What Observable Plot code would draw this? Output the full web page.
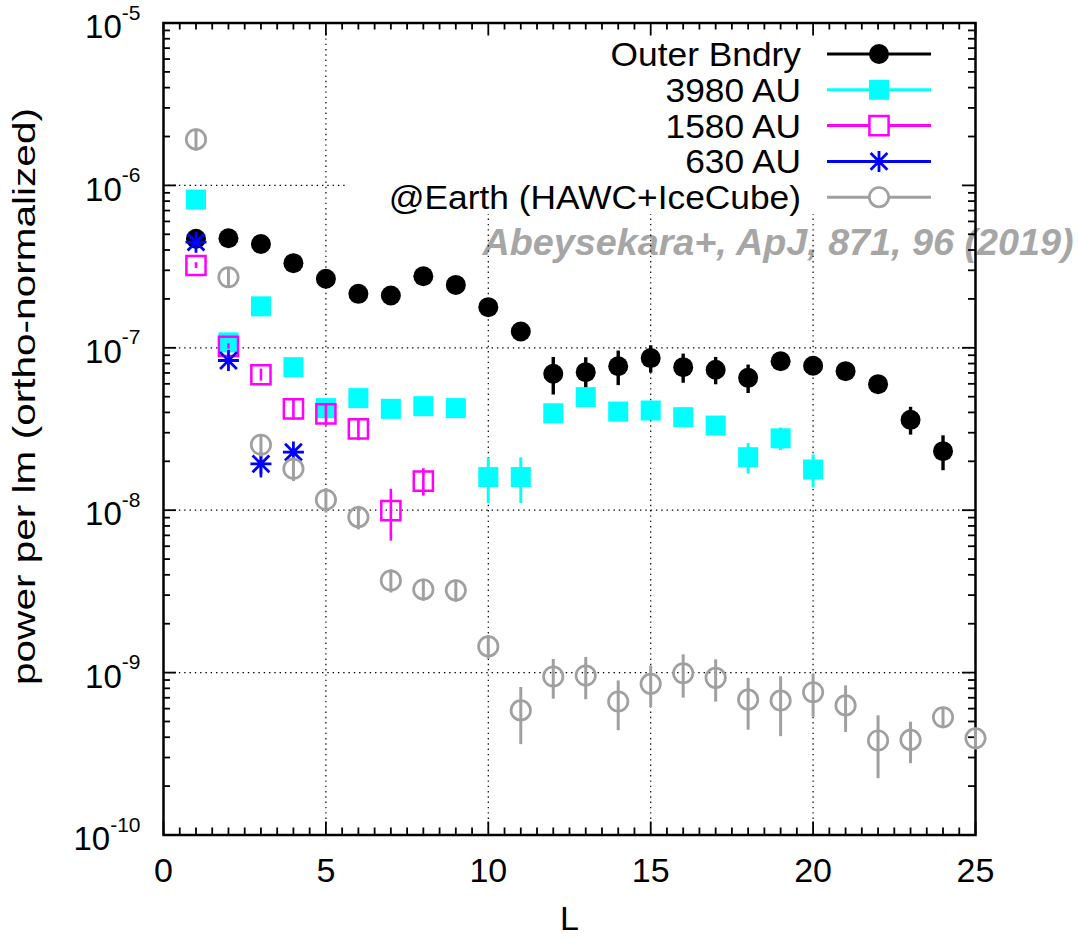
<!DOCTYPE html>
<html>
<head>
<meta charset="utf-8">
<script src="https://cdn.jsdelivr.net/npm/d3@7"></script>
<script src="https://cdn.jsdelivr.net/npm/@observablehq/plot@0.6"></script>
<style>
  html, body { margin: 0; padding: 0; background: #fff; }
  #chart svg { display: block; }
</style>
</head>
<body>
<div id="chart"></div>
<script>
// ---- data: angular power per multipole L ----
const outerL   = [1,2,3,4,5,6,7,8,9,10,11,12,13,14,15,16,17,18,19,20,21,22,23,24];
const outerP   = [4.69e-7,4.73e-7,4.36e-7,3.32e-7,2.66e-7,2.15e-7,2.10e-7,2.76e-7,2.44e-7,1.78e-7,1.26e-7,
                  6.92e-8,7.08e-8,7.70e-8,8.64e-8,7.60e-8,7.32e-8,6.53e-8,8.26e-8,7.75e-8,7.18e-8,5.97e-8,3.60e-8,2.31e-8];
const outerErr = [0,0,0,0,0,0,0,0,0,0,0,
                  1.8e-8,1.6e-8,1.85e-8,1.65e-8,1.55e-8,1.4e-8,1.3e-8,0.6e-8,0.5e-8,0.4e-8,0.4e-8,0.7e-8,0.56e-8];

const au3980L   = [1,2,3,4,5,6,7,8,9,10,11,12,13,14,15,16,17,18,19,20];
const au3980P   = [8.18e-7,1.08e-7,1.80e-7,7.60e-8,4.25e-8,4.90e-8,4.21e-8,4.37e-8,4.25e-8,1.60e-8,1.60e-8,
                   3.95e-8,4.97e-8,4.05e-8,4.11e-8,3.74e-8,3.32e-8,2.12e-8,2.77e-8,1.78e-8];
const au3980Err = [0,0,0,0,0,0,0,0,0,0.5e-8,0.5e-8,0,0,0,0,0.2e-8,0,0.45e-8,0.44e-8,0.41e-8];

const au1580L   = [1,2,3,4,5,6,7,8];
const au1580P   = [3.21e-7,1.02e-7,6.82e-8,4.21e-8,3.92e-8,3.17e-8,9.95e-9,1.51e-8];
const au1580Err = [1.3e-8,3.7e-9,5.8e-9,6.3e-9,5.9e-9,4.8e-9,3.5e-9,2.9e-9];

const au630L   = [1,2,3,4];
const au630P   = [4.47e-7,8.35e-8,1.93e-8,2.28e-8];
const au630Err = [0,0,3.5e-9,0];

const earthL   = [1,2,3,4,5,6,7,8,9,10,11,12,13,14,15,16,17,18,19,20,21,22,23,24,25];
const earthP   = [1.92e-6,2.72e-7,2.53e-8,1.80e-8,1.16e-8,9.06e-9,3.69e-9,3.25e-9,3.21e-9,1.45e-9,
                  5.85e-10,9.46e-10,9.60e-10,6.64e-10,8.53e-10,9.91e-10,9.28e-10,6.82e-10,6.73e-10,7.57e-10,
                  6.28e-10,3.82e-10,3.85e-10,5.31e-10,3.94e-10];
const earthErr = [3e-7,4e-8,4e-9,3e-9,2e-9,1.5e-9,6e-10,5e-10,5e-10,2.4e-10,
                  2.25e-10,2.6e-10,2.8e-10,2.25e-10,2.45e-10,2.95e-10,2.7e-10,2.4e-10,2.7e-10,2.25e-10,
                  2.0e-10,1.6e-10,1.1e-10,8e-11,6e-11];

const seriesNames = ["Outer Bndry", "3980 AU", "1580 AU", "630 AU", "@Earth (HAWC+IceCube)"];

// ---- axis text ----
const xMajor = [0, 5, 10, 15, 20, 25];
const yMajor = [1e-10, 1e-9, 1e-8, 1e-7, 1e-6, 1e-5];
const xGrid  = [5, 10, 15, 20];
const yGrid  = [1e-9, 1e-8, 1e-7, 1e-6];
const xLabel = "L";
const yLabel = "power per lm (ortho-normalized)";
const citation = "Abeysekara+, ApJ, 871, 96 (2019)";

// minor ticks: every 0.5 in L, and 2..9 inside each decade
const xMinor = d3.range(1, 50).map(i => i / 2).filter(v => v % 5 !== 0);
const yMinor = yMajor.slice(0, -1).flatMap(d => d3.range(2, 10).map(k => k * d));

// gnuplot-style star: a plus overlaid with a cross
const star = {
  draw(ctx, size) {
    const r = Math.sqrt(size / Math.PI);
    const d = r * 0.8;
    ctx.moveTo(-r, 0); ctx.lineTo(r, 0);
    ctx.moveTo(0, -r); ctx.lineTo(0, r);
    ctx.moveTo(-d, -d); ctx.lineTo(d, d);
    ctx.moveTo(-d, d); ctx.lineTo(d, -d);
  }
};

const styles = [
  {color: "#000000", symbol: "circle", filled: true,  r: 10,   sw: 0,   bar: 3.4},
  {color: "#00ffff", symbol: "square", filled: true,  r: 11.3, sw: 0,   bar: 3},
  {color: "#ff00ff", symbol: "square", filled: false, r: 10.8, sw: 2.5, bar: 2.6},
  {color: "#0000ff", symbol: star,     filled: false, r: 10.5, sw: 2.8, bar: 2.6},
  {color: "#a0a0a0", symbol: "circle", filled: false, r: 9.7,  sw: 2.7, bar: 3}
];

const seriesData = [
  [outerL, outerP, outerErr],
  [au3980L, au3980P, au3980Err],
  [au1580L, au1580P, au1580Err],
  [au630L, au630P, au630Err],
  [earthL, earthP, earthErr]
];

const tables = seriesData.map(([Ls, Ps, Es]) =>
  Ls.map((l, i) => ({L: l, P: Ps[i], lo: Ps[i] - Es[i], hi: Ps[i] + Es[i], E: Es[i]})));

// ---- geometry ----
const W = 1079, H = 945;
const mL = 163, mR = 104, mT = 22.5, mB = 110.5;
const fw = W - mL - mR, fh = H - mT - mB;
const majorLen = 13, minorLen = 7;
const tickStyle = {stroke: "black", strokeWidth: 1.8};

const dataMarks = tables.flatMap((rows, k) => {
  const s = styles[k];
  return [
    Plot.ruleX(rows.filter(d => d.E > 0), {x: "L", y1: "lo", y2: "hi", stroke: s.color, strokeWidth: s.bar}),
    Plot.dot(rows, {
      x: "L", y: "P", r: s.r, symbol: s.symbol,
      fill: s.filled ? s.color : "none",
      stroke: s.filled ? "none" : s.color,
      strokeWidth: s.sw
    })
  ];
});

const chart = Plot.plot({
  width: W, height: H,
  marginLeft: mL, marginRight: mR, marginTop: mT, marginBottom: mB,
  style: {fontFamily: "'Liberation Sans', Arial, sans-serif", background: "white", color: "black"},
  x: {domain: [0, 25], axis: null},
  y: {type: "log", domain: [1e-10, 1e-5], axis: null},
  marks: [
    Plot.text([citation], {
      text: d => d, frameAnchor: "top-left", dx: 482 - mL, dy: 254 - mT,
      lineAnchor: "bottom", textAnchor: "start", fontSize: 36,
      fontWeight: "bold", fontStyle: "italic", fill: "#a6a6a6", ariaDescription: "citation"
    }),
    Plot.ruleX(xGrid, {x: d => d, stroke: "black", strokeWidth: 1.2, strokeDasharray: "1.4,3.9"}),
    Plot.ruleY(yGrid, {y: d => d, stroke: "black", strokeWidth: 1.2, strokeDasharray: "1.4,3.9"}),
    Plot.frame({stroke: "black", strokeWidth: 2.5}),
    // inward ticks on all four sides
    Plot.tickX(xMajor, {x: d => d, insetTop: fh - majorLen, ...tickStyle}),
    Plot.tickX(xMajor, {x: d => d, insetBottom: fh - majorLen, ...tickStyle}),
    Plot.tickX(xMinor, {x: d => d, insetTop: fh - minorLen, ...tickStyle}),
    Plot.tickX(xMinor, {x: d => d, insetBottom: fh - minorLen, ...tickStyle}),
    Plot.tickY(yMajor, {y: d => d, insetRight: fw - majorLen, ...tickStyle}),
    Plot.tickY(yMajor, {y: d => d, insetLeft: fw - majorLen, ...tickStyle}),
    Plot.tickY(yMinor, {y: d => d, insetRight: fw - minorLen, ...tickStyle}),
    Plot.tickY(yMinor, {y: d => d, insetLeft: fw - minorLen, ...tickStyle}),
    // tick labels
    Plot.text(xMajor, {x: d => d, frameAnchor: "bottom", text: d => String(d), lineAnchor: "bottom", dy: 46.5, fontSize: 34}),
    Plot.text(yMajor, {
      y: d => d, frameAnchor: "left", text: d => String(Math.round(Math.log10(d))),
      textAnchor: "end", dx: -23, dy: 4.7, fontSize: 33, ariaDescription: "y-tick-label"
    }),
    // axis titles
    Plot.text([xLabel], {text: d => d, frameAnchor: "bottom", dy: 94.5, lineAnchor: "bottom", fontSize: 34}),
    Plot.text([yLabel], {
      text: d => d, frameAnchor: "left", rotate: -90, dx: 34 - mL, dy: 396 - (mT + fh / 2),
      lineAnchor: "bottom", textAnchor: "middle", fontSize: 31, ariaDescription: "y-label"
    }),
    ...dataMarks
  ]
});

document.getElementById("chart").append(chart);
const svg = d3.select(chart);

// opaque key box hides the grid behind the legend
svg.insert("rect", 'rect[aria-label="frame"]')
  .attr("x", 345).attr("y", mT).attr("width", W - mR - 345).attr("height", 214 - mT)
  .attr("fill", "white");

// stretch the citation and y title to their drawn lengths
svg.select('g[aria-description="citation"] text').attr("textLength", 591).attr("lengthAdjust", "spacingAndGlyphs");
svg.select('g[aria-description="y-label"] text').attr("textLength", 577).attr("lengthAdjust", "spacingAndGlyphs");

// y tick labels as 10 with a raised exponent
svg.selectAll('g[aria-description="y-tick-label"] text').each(function () {
  const exp = this.textContent;
  const t = d3.select(this).text(null);
  t.append("tspan").text("10");
  t.append("tspan").attr("font-size", 21).attr("dy", -18.7).text(exp);
});

// key
const key = svg.append("g").attr("aria-label", "key");
seriesNames.forEach((name, i) => {
  const s = styles[i];
  const y = 54 + i * 35.8;
  const label = key.append("text").attr("x", 801).attr("y", y + 12).attr("text-anchor", "end")
    .attr("font-size", 33).attr("fill", "black").text(name);
  const natural = label.node().getComputedTextLength();
  label.attr("textLength", natural * 1.07).attr("lengthAdjust", "spacingAndGlyphs");
  key.append("line").attr("x1", 827).attr("x2", 931).attr("y1", y).attr("y2", y)
    .attr("stroke", s.color).attr("stroke-width", 3);
  const type = s.symbol === "circle" ? d3.symbolCircle : s.symbol === "square" ? d3.symbolSquare : s.symbol;
  key.append("path").attr("transform", `translate(879,${y})`)
    .attr("d", d3.symbol(type, Math.PI * s.r * s.r)())
    .attr("fill", s.filled ? s.color : "white")
    .attr("stroke", s.filled ? "none" : s.color)
    .attr("stroke-width", s.sw);
});
</script>
</body>
</html>
